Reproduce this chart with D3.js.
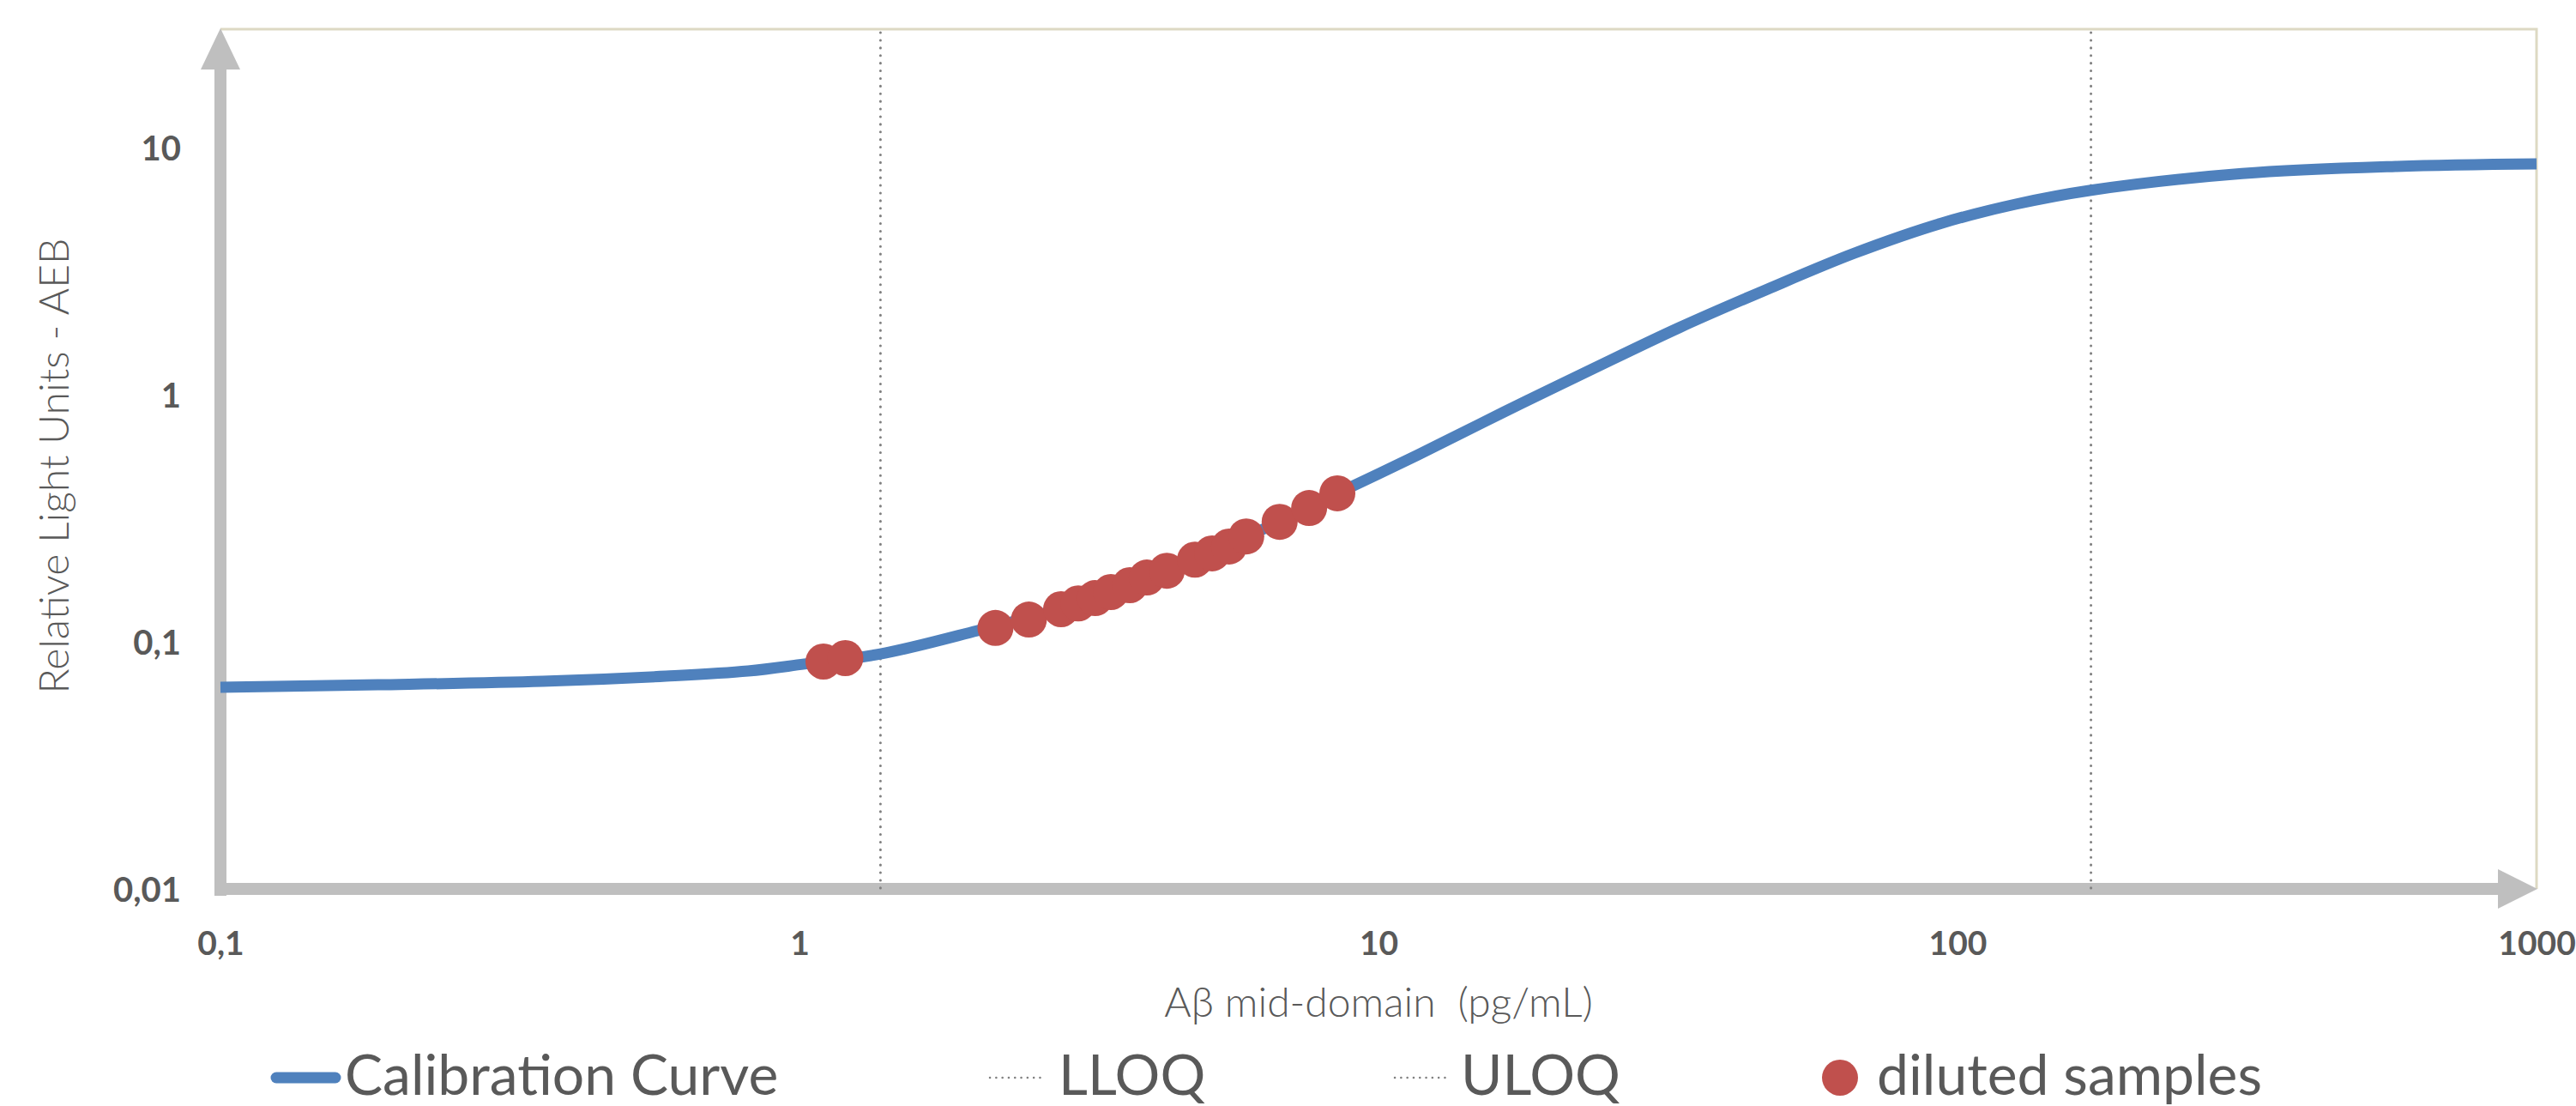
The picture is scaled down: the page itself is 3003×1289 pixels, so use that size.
<!DOCTYPE html>
<html>
<head>
<meta charset="utf-8">
<script src="https://cdn.jsdelivr.net/npm/d3@7"></script>
<style>
  body { margin: 0; background: #fff; }
  svg { display: block; }
</style>
</head>
<body>
<svg class="chart" width="3003" height="1289"></svg>
<script>
// calibration curve
let curveX = [0.1, 0.187, 0.36, 0.588, 0.815, 1.02, 1.38, 2.03, 3.0, 4.3, 6.0, 8.5, 11.7, 16.5, 23.4, 33.1, 46.9, 66.4, 94, 126, 170, 310, 571, 1000]
let curveY = [0.0655, 0.067, 0.0692, 0.0726, 0.0762, 0.0813, 0.0893, 0.111, 0.142, 0.193, 0.27, 0.399, 0.571, 0.853, 1.27, 1.87, 2.67, 3.74, 4.95, 5.9, 6.72, 7.85, 8.39, 8.59]

// diluted samples
let sampleX = [1.10, 1.20, 2.18, 2.49, 2.83, 3.03, 3.24, 3.45, 3.72, 3.98, 4.31, 4.82, 5.16, 5.52, 5.91, 6.75, 7.59, 8.49]
let sampleY = [0.0832, 0.0859, 0.1138, 0.123, 0.1355, 0.143, 0.1503, 0.159, 0.1695, 0.182, 0.194, 0.215, 0.228, 0.243, 0.267, 0.306, 0.348, 0.399]

let lloq = 1.38
let uloq = 170

let xTicks = [0.1, 1, 10, 100, 1000]
let yTicks = [0.01, 0.1, 1, 10]
let xTitle = 'Aβ mid-domain  (pg/mL)'
let yTitle = 'Relative Light Units - AEB'
let legendLabels = ['Calibration Curve', 'LLOQ', 'ULOQ', 'diluted samples']

let grey = '#595959'
let blue = '#4f81bd'
let red = '#c0504d'

function drawChart(){
  let svg = d3.select('svg')
  let left = 257, right = 2957, top = 34, bottom = 1036

  let x = d3.scaleLog().domain([0.1, 1000]).range([left, right])
  let y = d3.scaleLog().domain([0.01, 30.15]).range([bottom, top])

  let locale = d3.formatLocale({decimal: ',', thousands: '.', grouping: [3], currency: ['', '']})
  let fmt = locale.format('~g')

  // plot frame
  svg.append('path')
    .attr('d', 'M' + left + ',' + top + 'H' + right + 'V' + bottom)
    .attr('fill', 'none')
    .attr('stroke', '#ddd9c3')
    .attr('stroke-width', 3)

  // thick grey axes with arrow heads
  svg.append('line')
    .attr('x1', left).attr('x2', left)
    .attr('y1', bottom + 8).attr('y2', top + 46)
    .attr('stroke', '#bfbfbf').attr('stroke-width', 14)
  svg.append('polygon')
    .attr('points', [[left, top - 1], [left - 23, top + 47], [left + 23, top + 47]].join(' '))
    .attr('fill', '#bfbfbf')
  svg.append('line')
    .attr('x1', left - 7).attr('x2', right - 44)
    .attr('y1', bottom).attr('y2', bottom)
    .attr('stroke', '#bfbfbf').attr('stroke-width', 14)
  svg.append('polygon')
    .attr('points', [[right + 1, bottom], [right - 45, bottom - 23], [right - 45, bottom + 23]].join(' '))
    .attr('fill', '#bfbfbf')

  // LLOQ / ULOQ
  svg.selectAll('.limit')
    .data([lloq, uloq])
    .enter()
    .append('line')
      .attr('class', 'limit')
      .attr('x1', function(d) { return x(d) })
      .attr('x2', function(d) { return x(d) })
      .attr('y1', top + 4)
      .attr('y2', bottom)
      .attr('stroke', '#808080')
      .attr('stroke-width', 3)
      .attr('stroke-linecap', 'round')
      .attr('stroke-dasharray', '0.1 8.8')

  // tick labels
  let xAxis = d3.axisBottom(x).tickValues(xTicks).tickFormat(fmt).tickSize(0)
  let gx = svg.append('g').attr('transform', 'translate(0,' + bottom + ')').call(xAxis)
  gx.select('.domain').remove()
  gx.selectAll('text')
    .attr('y', 77).attr('dy', 0)
    .attr('font-family', 'Lato').attr('font-weight', 'bold').attr('font-size', 39)
    .attr('fill', grey)

  let yAxis = d3.axisLeft(y).tickValues(yTicks).tickFormat(fmt).tickSize(0).tickPadding(46)
  let gy = svg.append('g').attr('transform', 'translate(' + left + ',0)').call(yAxis)
  gy.select('.domain').remove()
  gy.selectAll('text')
    .attr('dy', '0.36em')
    .attr('font-family', 'Lato').attr('font-weight', 'bold').attr('font-size', 40)
    .attr('fill', grey)

  // calibration curve
  let line = d3.line()
    .x(function(d) { return x(d[0]) })
    .y(function(d) { return y(d[1]) })
    .curve(d3.curveCatmullRom.alpha(0.5))
  svg.append('path')
    .datum(d3.zip(curveX, curveY))
    .attr('d', line)
    .attr('fill', 'none')
    .attr('stroke', blue)
    .attr('stroke-width', 13)

  // samples
  svg.selectAll('.sample')
    .data(d3.zip(sampleX, sampleY))
    .enter()
    .append('circle')
      .attr('class', 'sample')
      .attr('cx', function(d) { return x(d[0]) })
      .attr('cy', function(d) { return y(d[1]) })
      .attr('r', 21)
      .attr('fill', red)

  // axis titles
  svg.append('text')
    .attr('x', (left + right) / 2).attr('y', 1185)
    .attr('text-anchor', 'middle')
    .style('white-space', 'pre')
    .attr('font-family', 'Lato').attr('font-weight', 300).attr('font-size', 48)
    .attr('fill', grey)
    .text(xTitle)
  svg.append('text')
    .attr('transform', 'translate(80,' + ((top + bottom) / 2 + 8) + ') rotate(-90)')
    .attr('text-anchor', 'middle')
    .attr('font-family', 'Lato').attr('font-weight', 300).attr('font-size', 48)
    .attr('fill', grey)
    .text(yTitle)

  // legend
  let legendX = [316, 1153, 1625, 2124]
  let legendY = 1256
  let items = svg.selectAll('.legend')
    .data(legendLabels)
    .enter()
    .append('g')
      .attr('class', 'legend')
      .attr('transform', function(d, i) { return 'translate(' + legendX[i] + ',' + legendY + ')' })

  items.each(function(d, i) {
    let g = d3.select(this)
    if (i == 0) {
      g.append('line').attr('x1', 6).attr('x2', 75)
        .attr('stroke', blue).attr('stroke-width', 13).attr('stroke-linecap', 'round')
    } else if (i < 3) {
      g.append('line').attr('x1', 1).attr('x2', 66)
        .attr('stroke', '#808080').attr('stroke-width', 2.5)
        .attr('stroke-linecap', 'round').attr('stroke-dasharray', '0.1 7.2')
    } else {
      g.append('circle').attr('cx', 21).attr('r', 21).attr('fill', red)
    }
  })

  let textOffset = [86, 81, 78, 64]
  items.append('text')
    .attr('x', function(d, i) { return textOffset[i] })
    .attr('y', 20)
    .attr('font-family', 'Lato').attr('font-size', 66)
    .attr('fill', grey)
    .text(function(d) { return d })
}

drawChart()
</script>
</body>
</html>
